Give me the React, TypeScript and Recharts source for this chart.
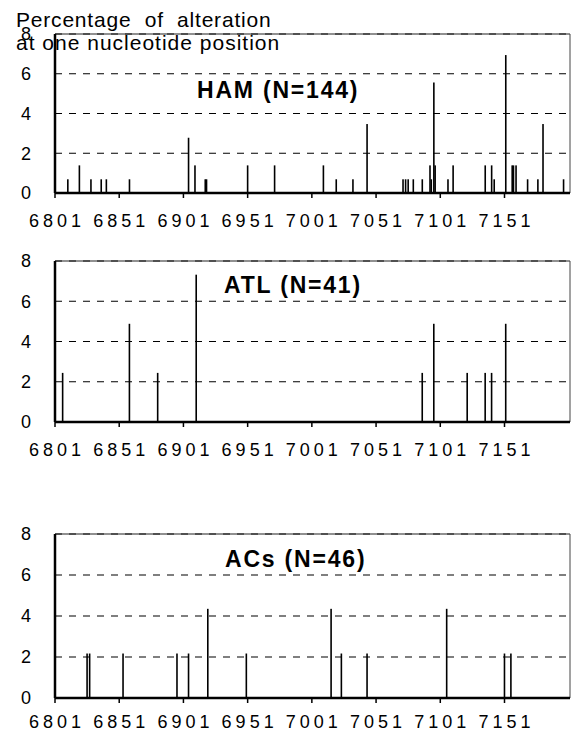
import React from 'react';
import { BarChart, Bar, XAxis, YAxis, CartesianGrid, ReferenceLine } from 'recharts';

const xTicks = [6801, 6851, 6901, 6951, 7001, 7051, 7101, 7151];
const yTicks = [0, 2, 4, 6, 8];
const xMin = 6801;
const xMax = 7202;

const hamPositions = [6811, 6820, 6829, 6837, 6841, 6859, 6905, 6910, 6918, 6919, 6951, 6972, 7010, 7020, 7033, 7044, 7072, 7074, 7076, 7080, 7087, 7093, 7094, 7096, 7097, 7107, 7111, 7136, 7141, 7143, 7152, 7157, 7158, 7160, 7169, 7177, 7181, 7197];
const hamValues = [0.69, 1.39, 0.69, 0.69, 0.69, 0.69, 2.78, 1.39, 0.69, 0.69, 1.39, 1.39, 1.39, 0.69, 0.69, 3.47, 0.69, 0.69, 0.69, 0.69, 0.69, 1.39, 0.69, 5.56, 1.39, 0.69, 1.39, 1.39, 1.39, 0.69, 6.94, 1.39, 1.39, 1.39, 0.69, 0.69, 3.47, 0.69];

const atlPositions = [6807, 6859, 6881, 6911, 7087, 7096, 7122, 7136, 7141, 7152];
const atlValues = [2.44, 4.88, 2.44, 7.32, 2.44, 4.88, 2.44, 2.44, 2.44, 4.88];

const acsPositions = [6826, 6828, 6854, 6896, 6905, 6920, 6950, 7016, 7024, 7044, 7106, 7151, 7156];
const acsValues = [2.17, 2.17, 2.17, 2.17, 2.17, 4.35, 2.17, 4.35, 2.17, 2.17, 4.35, 2.17, 2.17];

const panelTitles = ['HAM (N=144)', 'ATL (N=41)', 'ACs (N=46)'];
const yTitleLines = ['Percentage  of  alteration', 'at one nucleotide position'];

const FONT = '"Liberation Sans", Arial, Helvetica, sans-serif';

const toData = (pos: number[], vals: number[]) => pos.map((p, i) => ({ pos: p, value: vals[i] }));

const XTick = (props: any) => {
  const { x, y, payload } = props;
  return (
    <text x={x + 2} y={y + 13} textAnchor="middle" fontSize={18} fontFamily={FONT} fill="#000" letterSpacing={4}>
      {payload.value}
    </text>
  );
};

const BarShape = (p: any) => {
  if (!p.height || p.height <= 0) return null;
  return <rect x={p.x + p.width / 2 - 0.8} y={p.y} width={1.6} height={p.height} fill="#000" />;
};

function Panel({ top, plotHeight, data, tickMargin }: { top: number; plotHeight: number; data: any[]; tickMargin: number }) {
  const mTop = 10;
  const xAxisH = 40;
  return (
    <div style={{ position: 'absolute', left: 0, top: top - mTop, width: 573, height: mTop + plotHeight + xAxisH }}>
      <BarChart width={573} height={mTop + plotHeight + xAxisH} data={data} margin={{ top: mTop, right: 3, left: 0, bottom: 0 }}>
        <CartesianGrid vertical={false} stroke="#000" strokeWidth={1.2} strokeDasharray="7 7" />
        <XAxis
          type="number"
          dataKey="pos"
          domain={[xMin, xMax]}
          ticks={xTicks}
          allowDataOverflow
          height={xAxisH}
          tickSize={5}
          tickMargin={tickMargin}
          tick={<XTick />}
          axisLine={{ stroke: '#000', strokeWidth: 2.5 }}
          tickLine={{ stroke: '#000', strokeWidth: 1.5 }}
          interval={0}
        />
        <YAxis
          type="number"
          domain={[0, 8]}
          ticks={yTicks}
          width={55}
          tickLine={false}
          tickSize={6}
          tickMargin={18}
          axisLine={{ stroke: '#000', strokeWidth: 2.5 }}
          tick={{ fontSize: 18, fill: '#000', fontFamily: FONT }}
          interval={0}
        />
        <ReferenceLine y={8} stroke="#222" strokeWidth={1.2} />
        <ReferenceLine x={xMax} stroke="#444" strokeWidth={1} />
        <Bar dataKey="value" fill="#000" isAnimationActive={false} shape={<BarShape />} />
      </BarChart>
    </div>
  );
}

export default function App() {
  return (
    <div style={{ position: 'absolute', left: 0, top: 0, width: 573, height: 733, background: '#fff', overflow: 'hidden' }}>
      <Panel top={34} plotHeight={159} data={toData(hamPositions, hamValues)} tickMargin={16} />
      <Panel top={261} plotHeight={161} data={toData(atlPositions, atlValues)} tickMargin={16} />
      <Panel top={534} plotHeight={164} data={toData(acsPositions, acsValues)} tickMargin={12} />
      <svg width={573} height={733} style={{ position: 'absolute', left: 0, top: 0, pointerEvents: 'none' }}>
        <text x={16} y={27} fontSize={21} fontFamily={FONT} fill="#000" letterSpacing={0.8} style={{ whiteSpace: 'pre' }}>
          {yTitleLines[0]}
        </text>
        <text x={16} y={50} fontSize={21} fontFamily={FONT} fill="#000" letterSpacing={1}>
          {yTitleLines[1]}
        </text>
        <text x={197} y={98} fontSize={23} fontWeight="bold" fontFamily={FONT} fill="#000" letterSpacing={1.8}>
          {panelTitles[0]}
        </text>
        <text x={224} y={293} fontSize={23} fontWeight="bold" fontFamily={FONT} fill="#000" letterSpacing={1.8}>
          {panelTitles[1]}
        </text>
        <text x={225} y={567} fontSize={23} fontWeight="bold" fontFamily={FONT} fill="#000" letterSpacing={1.8}>
          {panelTitles[2]}
        </text>
      </svg>
    </div>
  );
}
